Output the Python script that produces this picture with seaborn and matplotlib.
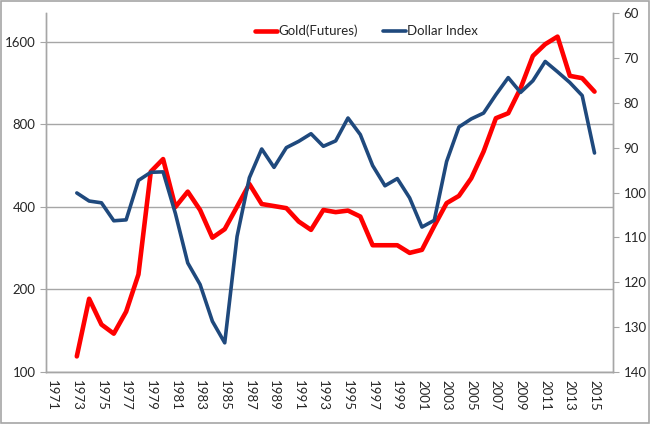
import numpy as np
import pandas as pd
import matplotlib
matplotlib.use("Agg")
import matplotlib.pyplot as plt
from matplotlib.patches import Rectangle
from matplotlib.ticker import FixedLocator, NullFormatter
import seaborn as sns

# categories on the x axis
years = list(range(1971, 2017))
data_years = list(range(1973, 2016))

# gold futures, yearly (left, log axis)
gold = [114, 185, 149, 138, 166, 227, 538, 598, 400, 455,
        390, 309, 332, 401, 485, 410, 403, 396, 354, 330,
        390, 383, 388, 369, 290, 290, 290, 272, 279, 341,
        413, 439, 509, 637, 843, 879, 1084, 1422, 1570, 1673,
        1203, 1180, 1054]

# dollar index, yearly (right, inverted axis)
dollar = [100.1, 101.9, 102.3, 106.3, 106.1, 97.3, 95.5, 95.4, 104.7, 115.7,
          120.5, 128.7, 133.5, 109.8, 96.7, 90.3, 94.4, 90.0, 88.6, 86.9,
          89.7, 88.5, 83.4, 87.1, 94.0, 98.5, 96.9, 101.2, 107.7, 106.2,
          93.1, 85.4, 83.6, 82.3, 78.2, 74.4, 77.7, 75.1, 70.8, 73.1,
          75.5, 78.4, 91.2]

left_ticks = [100, 200, 400, 800, 1600]
right_ticks = list(range(60, 150, 10))

df = pd.DataFrame({"year": data_years, "gold": gold, "dollar": dollar})

sns.set_style("white")
plt.rcParams["font.family"] = ["Lato", "DejaVu Sans"]

grey = "#A6A6A6"
txt = "#262626"
fs = 9.5

fig = plt.figure(figsize=(6.5, 4.24), dpi=100)
ax = fig.add_axes([46 / 650, 1 - 372 / 424, 567 / 650, 359 / 424])
ax2 = ax.twinx()

sns.lineplot(data=df, x="year", y="gold", ax=ax, color="#FF0000",
             linewidth=3.3, label="Gold(Futures)", legend=False)
sns.lineplot(data=df, x="year", y="dollar", ax=ax2, color="#1F497D",
             linewidth=2.6, label="Dollar Index", legend=False)

ax.set_yscale("log", base=2)
ax.set_ylim(100, 2040)
ax.yaxis.set_major_locator(FixedLocator(left_ticks))
ax.set_yticklabels([str(v) for v in left_ticks])
ax.yaxis.set_minor_formatter(NullFormatter())
ax.yaxis.set_minor_locator(FixedLocator([]))
ax.grid(axis="y", color=grey, linewidth=1)
ax.set_axisbelow(True)

ax2.set_ylim(140, 60)
ax2.set_yticks(right_ticks)

ax.set_xlim(1970.5, 2016.5)
ax.set_xticks(years[::2])
ax.set_xticklabels([str(y) for y in years[::2]], rotation=270)
ax.set_xticks(np.arange(1970.5, 2017, 1), minor=True)
ax.tick_params(axis="x", which="major", length=0, pad=6)
ax.tick_params(axis="x", which="minor", length=4, color=grey, direction="out")
ax.tick_params(axis="both", labelsize=fs, labelcolor=txt)
ax.tick_params(axis="y", length=4, color=grey, direction="out")
ax2.tick_params(axis="y", length=4, color=grey, direction="out",
                labelsize=fs, labelcolor=txt)

for a in (ax, ax2):
    a.set_xlabel("")
    a.set_ylabel("")
    a.spines["top"].set_visible(False)
    for s in ("left", "right", "bottom"):
        a.spines[s].set_color(grey)
        a.spines[s].set_linewidth(1)

h1, l1 = ax.get_legend_handles_labels()
h2, l2 = ax2.get_legend_handles_labels()
ax2.legend(h1 + h2, l1 + l2, loc="upper center", bbox_to_anchor=(0.565, 1.0),
           ncol=2, frameon=False, fontsize=fs, handlelength=1.7,
           handletextpad=0.1, columnspacing=1.9, labelcolor=txt)

fig.patches.append(Rectangle((0.001, 0.002), 0.997, 0.996, transform=fig.transFigure,
                             fill=False, edgecolor=grey, linewidth=1.2))

fig.savefig("out.png", dpi=100)
